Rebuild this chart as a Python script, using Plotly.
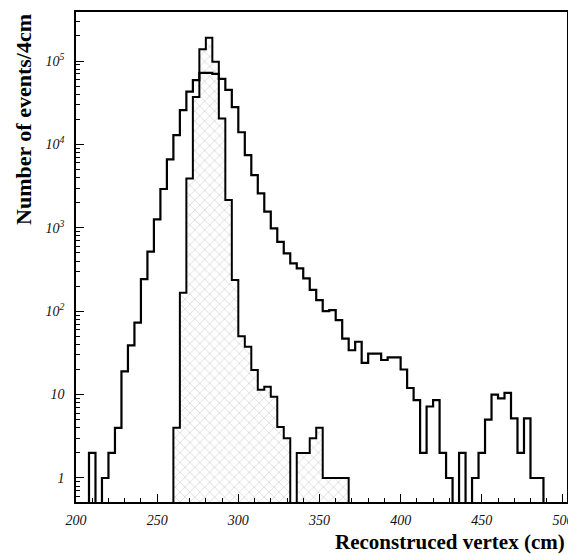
import plotly.graph_objects as go

BIN_WIDTH = 4
# Reconstructed vertex, all events (outline histogram): bin lower edges and contents
all_bins = [208, 212, 216, 220, 224, 228, 232, 236, 240, 244,
            248, 252, 256, 260, 264, 268, 272, 276, 280, 284,
            288, 292, 296, 300, 304, 308, 312, 316, 320, 324,
            328, 332, 336, 340, 344, 348, 352, 356, 360, 364,
            368, 372, 376, 380, 384, 388, 392, 396, 400, 404,
            408, 412, 416, 420, 424, 428, 432, 436, 440, 444,
            448, 452, 456, 460, 464, 468, 472, 476, 480, 484]
all_counts = [2, 0, 1, 2, 4, 19, 39, 73, 243, 517,
              1260, 2920, 6620, 12900, 25800, 43000, 59000, 72000, 72000, 70000,
              61000, 45000, 28000, 14000, 7440, 4280, 2590, 1560, 985, 680,
              495, 375, 327, 247, 180, 136, 100, 103, 78, 47,
              34, 43, 24, 31, 31, 26, 28, 28, 20, 12,
              8.6, 2, 7.2, 8.6, 2, 1, 0, 2, 0, 1,
              2, 5, 10, 9, 10.5, 5.2, 2, 5.2, 1, 1]

# Shaded histogram
sel_bins = [260, 264, 268, 272, 276, 280, 284, 288, 292, 296,
            300, 304, 308, 312, 316, 320, 324, 328, 332, 336,
            340, 344, 348, 352, 356, 360, 364]
sel_counts = [4, 166, 3900, 37000, 138000, 190000, 98000, 20500, 2150, 237,
              50, 37.5, 19.7, 11.4, 12.4, 9.4, 4.1, 3, 0, 2,
              2, 3, 4, 1, 1, 1, 1]

x_tickvals = [200, 250, 300, 350, 400, 450, 500]
x_ticktext = ["200", "250", "300", "350", "400", "450", "500"]
y_tickvals = [1, 10, 100, 1000, 10000, 100000]
y_ticktext = ["1", "10", "10<sup>2</sup>", "10<sup>3</sup>", "10<sup>4</sup>", "10<sup>5</sup>"]

FLOOR = 0.1  # below visible range, used to close steps


def steps(bins, counts):
    xs = [bins[0]]
    ys = [FLOOR]
    for b, c in zip(bins, counts):
        v = c if c > 0 else FLOOR
        xs += [b, b + BIN_WIDTH]
        ys += [v, v]
    xs.append(bins[-1] + BIN_WIDTH)
    ys.append(FLOOR)
    return xs, ys


fig = go.Figure()

sx, sy = steps(sel_bins, sel_counts)
fig.add_trace(go.Scatter(
    x=sx, y=sy, mode="lines", fill="toself",
    fillcolor="white",
    fillpattern=dict(shape="x", fgcolor="#a8a8a8", bgcolor="white", size=7, solidity=0.2),
    line=dict(color="black", width=2), hoverinfo="skip", showlegend=False))

ax, ay = steps(all_bins, all_counts)
fig.add_trace(go.Scatter(
    x=ax, y=ay, mode="lines",
    line=dict(color="black", width=2.2), hoverinfo="skip", showlegend=False))

serif = "Liberation Serif, Times New Roman, serif"

minor_y = [m * 10 ** k for k in range(-1, 6) for m in range(2, 10)]

fig.update_xaxes(
    range=[200, 502.5], showline=True, linecolor="black", linewidth=1.5, mirror=True,
    ticks="inside", ticklen=8, tickwidth=1, tickcolor="black",
    tickvals=x_tickvals, ticktext=["<i>" + t + "</i>" for t in x_ticktext],
    tickfont=dict(family=serif, size=14, color="#111"),
    minor=dict(ticks="inside", ticklen=4, dtick=10, tick0=200, tickcolor="black"),
    showgrid=False, zeroline=False, automargin=False, ticklabelstandoff=4,
    ticklabeloverflow="allow")
fig.update_yaxes(
    type="log", range=[-0.288, 5.588], showline=True, linecolor="black", linewidth=1.5, mirror=True,
    ticks="inside", ticklen=8, tickwidth=1, tickcolor="black",
    tickvals=y_tickvals, ticktext=["<i>" + t + "</i>" for t in y_ticktext],
    tickfont=dict(family=serif, size=14, color="#111"),
    minor=dict(ticks="inside", ticklen=4, tickvals=minor_y, tickcolor="black"),
    showgrid=False, zeroline=False, automargin=False, ticklabelstandoff=7,
    ticklabeloverflow="allow")

fig.add_annotation(text="<b>Reconstruced vertex (cm)</b>", xref="paper", yref="paper",
                   x=1.0, y=-0.081, xanchor="right", yanchor="middle", showarrow=False,
                   font=dict(family=serif, size=21, color="black"))
fig.add_annotation(text="<b>Number of events/4cm</b>", xref="paper", yref="paper",
                   x=-0.107, y=1.0, xanchor="center", yanchor="top", textangle=-90,
                   showarrow=False, font=dict(family=serif, size=22, color="black"))

fig.update_layout(
    width=568, height=555, margin=dict(l=76, r=1, t=12, b=53),
    paper_bgcolor="white", plot_bgcolor="white", showlegend=False)

fig.write_html("out.html", config={"displayModeBar": False},
               post_script="document.body.style.margin='0px';document.body.style.overflow='hidden';")
